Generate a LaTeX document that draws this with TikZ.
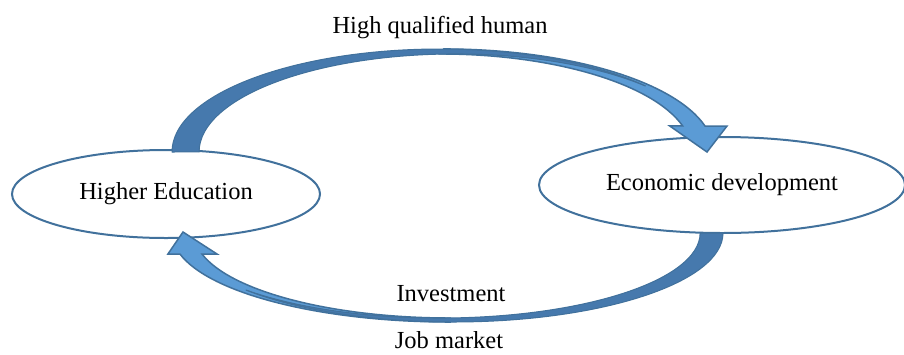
\documentclass[tikz,border=0pt]{standalone}
\usepackage{fontspec}
\setmainfont{Liberation Serif}
\usetikzlibrary{shapes.geometric,calc}
\definecolor{rimblue}{HTML}{41719C}
\definecolor{backblue}{HTML}{4679AD}
\definecolor{frontblue}{HTML}{5B9BD5}
\tikzset{
  cycle node/.style={ellipse,draw=rimblue,line width=2pt,fill=white,inner sep=0pt},
  back part/.style={fill=backblue,draw=rimblue,line width=1pt,line join=round},
  front part/.style={fill=frontblue,draw=rimblue,line width=1.5pt},
  flow label/.style={anchor=base,inner sep=0pt}
}

\begin{document}
\begin{tikzpicture}[x=1pt,y=-1pt,font=\fontsize{24.5}{29}\selectfont]
          \useasboundingbox (0,0) rectangle (904,354);
          \node[cycle node,minimum width=308pt,minimum height=88pt] (he) at (166,194) {Higher Education};
          \node[cycle node,minimum width=366pt,minimum height=96pt] (ed) at (722,185) {Economic development};
          \coordinate (qbase) at ($(he.north)+(6,3)$);
          \coordinate (qtip) at ($(ed.north)+(-15,16)$);
          \coordinate (jbase) at ($(ed.south)+(1,-1)$);
          \coordinate (jtip) at ($(he.south)+(17,-7)$);
          \draw[front part] (qtip) -- ++(20,-26) -- ++(-22,0)
            arc[start angle=345.4,end angle=270,x radius=270,y radius=103] -- ++(-4,5)
            arc[start angle=270,end angle=344.6,x radius=252,y radius=98] -- ++(-13,0) -- cycle;
          \draw[back part] (qbase) arc[start angle=180,end angle=320,x radius=268,y radius=103] -- ++(0,0.2)
            arc[start angle=317.7,end angle=180,x radius=256.5,y radius=98] -- cycle;
          \draw[front part] (jtip) -- ++(34,22) -- ++(-15,0)
            arc[start angle=165.7,end angle=90,x radius=256,y radius=85] -- ++(0,4)
            arc[start angle=90,end angle=166.35,x radius=278,y radius=89] -- ++(-12,0) -- cycle;
          \draw[back part] (jbase) arc[start angle=0,end angle=140,x radius=270,y radius=89] -- ++(0,-0.2)
            arc[start angle=137.9,end angle=0,x radius=260.6,y radius=85] -- cycle;
          \node[flow label] (hq) at (440,33) {High qualified human};
          \node[flow label] (inv) at (451,301) {Investment};
          \node[flow label] (jm) at (449,348) {Job market};
        \end{tikzpicture}
\end{document}
